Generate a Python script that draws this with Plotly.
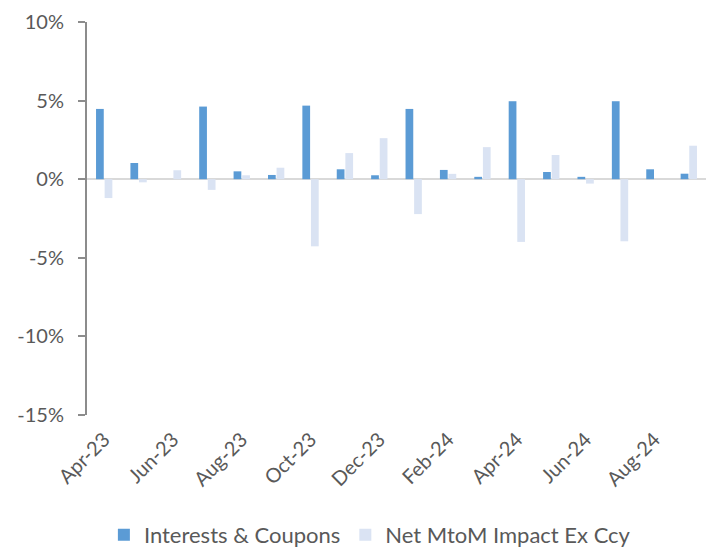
import plotly.graph_objects as go

months = ["Apr-23", "May-23", "Jun-23", "Jul-23", "Aug-23", "Sep-23", "Oct-23", "Nov-23", "Dec-23",
          "Jan-24", "Feb-24", "Mar-24", "Apr-24", "May-24", "Jun-24", "Jul-24", "Aug-24", "Sep-24"]
interests_coupons = [4.47, 1.03, 0.0, 4.62, 0.50, 0.27, 4.68, 0.63, 0.25,
                     4.47, 0.59, 0.15, 4.96, 0.46, 0.15, 4.96, 0.63, 0.35]
net_mtom = [-1.20, -0.20, 0.57, -0.68, 0.25, 0.73, -4.27, 1.66, 2.61,
            -2.22, 0.34, 2.04, -3.99, 1.54, -0.28, -3.95, 0.0, 2.13]
y_ticks = [10, 5, 0, -5, -10, -15]
y_tick_text = ["10%", "5%", "0%", "-5%", "-10%", "-15%"]

FONT = "Lato"
TXT = "#595959"

fig = go.Figure()
fig.add_trace(go.Bar(x=months, y=[v / 100 for v in interests_coupons], name="Interests & Coupons",
                     marker=dict(color="#5B9BD5", line=dict(width=0))))
fig.add_trace(go.Bar(x=months, y=[v / 100 for v in net_mtom], name="Net MtoM Impact Ex Ccy",
                     marker=dict(color="#DAE3F3", line=dict(width=0))))

fig.update_layout(
    width=712, height=551,
    margin=dict(l=87, r=6, t=22, b=136, autoexpand=False),
    paper_bgcolor="white", plot_bgcolor="white",
    barmode="group", bargap=0.5, bargroupgap=0.1,
    font=dict(family=FONT, size=20, color=TXT),
    showlegend=True,
    legend=dict(orientation="h", x=0.457, xanchor="center", y=-0.305, yanchor="middle",
                font=dict(family=FONT, size=22, color=TXT), itemwidth=30,
                tracegroupgap=0),
)
fig.update_yaxes(range=[-0.15, 0.10], tickvals=[v / 100 for v in y_ticks], ticktext=y_tick_text,
                 showgrid=False, zeroline=True, zerolinecolor="#D9D9D9", zerolinewidth=2,
                 showline=True, linecolor="#8C8C8C", linewidth=2,
                 ticks="outside", ticklen=7, tickcolor="#8C8C8C", tickwidth=2,
                 ticklabelstandoff=10, tickfont=dict(family=FONT, size=20, color=TXT))
fig.update_xaxes(type="category", categoryorder="array", categoryarray=months,
                 tickvals=months[::2], ticktext=months[::2], tickangle=-45,
                 showgrid=False, showline=False, ticks="", zeroline=False,
                 ticklabelstandoff=8,
                 tickfont=dict(family=FONT, size=20, color=TXT))

fig.write_html("out.html")
